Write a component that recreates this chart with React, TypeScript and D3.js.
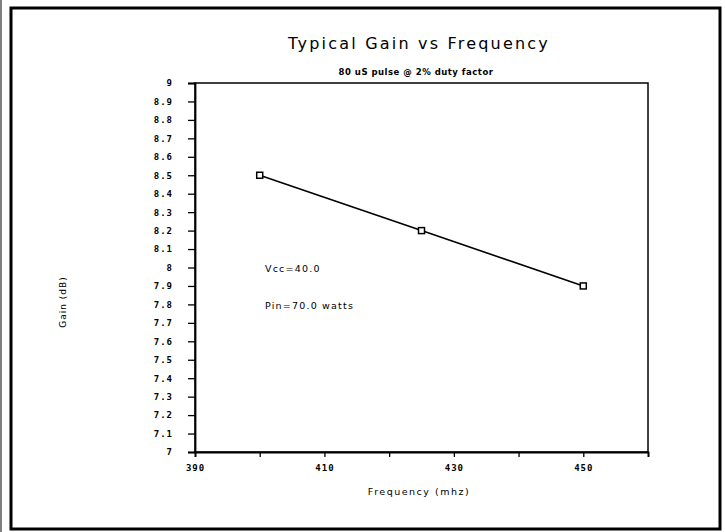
import React, { useEffect, useRef } from "react";
import * as d3 from "d3";

// Data
const frequencies = [400, 425, 450];
const gains = [8.5, 8.2, 7.9];
const yTicks = [7, 7.1, 7.2, 7.3, 7.4, 7.5, 7.6, 7.7, 7.8, 7.9, 8, 8.1, 8.2, 8.3, 8.4, 8.5, 8.6, 8.7, 8.8, 8.9, 9];
const xTicks = [390, 400, 410, 420, 430, 440, 450, 460];
const xLabeled = [390, 410, 430, 450];
const notes = ["Vcc=40.0", "Pin=70.0 watts"];

export default function App() {
  const ref = useRef<SVGSVGElement>(null);

  useEffect(() => {
    const svg = d3.select(ref.current);
    svg.selectAll("*").remove();

    const left = 195, right = 648, top = 83, bottom = 452;
    const x = d3.scaleLinear().domain([390, 460]).range([left, right]);
    const y = d3.scaleLinear().domain([7, 9]).range([bottom, top]);

    // faint scan edge on the left
    svg.append("line")
      .attr("x1", 1).attr("x2", 1).attr("y1", 0).attr("y2", 532)
      .attr("stroke", "#555").attr("stroke-width", 1.5);

    // outer frame
    svg.append("rect")
      .attr("x", 11).attr("y", 8).attr("width", 709).attr("height", 521)
      .attr("fill", "white").attr("stroke", "#000").attr("stroke-width", 3);

    // plot box
    svg.append("rect")
      .attr("x", left).attr("y", top).attr("width", right - left).attr("height", bottom - top)
      .attr("fill", "none").attr("stroke", "#000").attr("stroke-width", 1.5);

    // Y axis
    const yAxis = svg.append("g")
      .attr("transform", `translate(${left},0)`)
      .call(
        d3.axisLeft(y)
          .tickValues(yTicks)
          .tickSize(7)
          .tickPadding(15)
          .tickFormat((d: any) => (d % 1 === 0 ? String(d) : (+d).toFixed(1)))
      );
    yAxis.select(".domain").attr("stroke-width", 1.8);
    yAxis.selectAll(".tick line").attr("stroke-width", 1.3);
    yAxis.selectAll("text")
      .attr("font-family", "DejaVu Sans Mono").attr("font-size", 9)
      .attr("font-weight", "bold").attr("letter-spacing", 1);

    // X axis
    const xAxis = svg.append("g")
      .attr("transform", `translate(0,${bottom})`)
      .call(
        d3.axisBottom(x)
          .tickValues(xTicks)
          .tickSize(5)
          .tickPadding(8)
          .tickFormat((d: any) => (xLabeled.includes(+d) ? String(d) : ""))
      );
    xAxis.select(".domain").attr("stroke-width", 1.8);
    xAxis.selectAll(".tick line").attr("stroke-width", 1.3);
    xAxis.selectAll("text")
      .attr("font-family", "DejaVu Sans Mono").attr("font-size", 9)
      .attr("font-weight", "bold").attr("letter-spacing", 1);

    // line
    const pts = frequencies.map((f, i) => [f, gains[i]] as [number, number]);
    const line = d3.line<[number, number]>().x(d => x(d[0])).y(d => y(d[1]));
    svg.append("path")
      .datum(pts)
      .attr("d", line)
      .attr("fill", "none")
      .attr("stroke", "#000")
      .attr("stroke-width", 1.6);

    // square markers
    svg.selectAll("rect.pt")
      .data(pts)
      .enter().append("rect")
      .attr("class", "pt")
      .attr("x", d => x(d[0]) - 3)
      .attr("y", d => y(d[1]) - 3)
      .attr("width", 6).attr("height", 6)
      .attr("fill", "white").attr("stroke", "#000").attr("stroke-width", 1.5);

    // title & labels
    svg.append("text")
      .attr("x", 419).attr("y", 49)
      .attr("text-anchor", "middle")
      .attr("font-family", "DejaVu Sans")
      .attr("font-size", 16)
      .attr("letter-spacing", 2.2)
      .text("Typical Gain vs Frequency");

    svg.append("text")
      .attr("x", 416).attr("y", 75)
      .attr("text-anchor", "middle")
      .attr("font-family", "DejaVu Sans")
      .attr("font-size", 8.5).attr("font-weight", "bold")
      .attr("letter-spacing", 0.5)
      .text("80 uS pulse @ 2% duty factor");

    svg.append("text")
      .attr("x", 419).attr("y", 495)
      .attr("text-anchor", "middle")
      .attr("font-family", "DejaVu Sans")
      .attr("font-size", 9.5)
      .attr("letter-spacing", 1.5)
      .text("Frequency (mhz)");

    svg.append("text")
      .attr("transform", "translate(66,302) rotate(-90)")
      .attr("text-anchor", "middle")
      .attr("font-family", "DejaVu Sans")
      .attr("font-size", 9)
      .attr("letter-spacing", 1)
      .text("Gain (dB)");

    svg.selectAll("text.note")
      .data(notes)
      .enter().append("text")
      .attr("class", "note")
      .attr("x", 265)
      .attr("y", (d, i) => 272 + i * 37)
      .attr("font-family", "DejaVu Sans")
      .attr("font-size", 9.5)
      .attr("letter-spacing", 1.2)
      .text(d => d);
  }, []);

  return (
    <svg ref={ref} width={725} height={532}
      style={{ position: "absolute", left: 0, top: 0, background: "white" }} />
  );
}
